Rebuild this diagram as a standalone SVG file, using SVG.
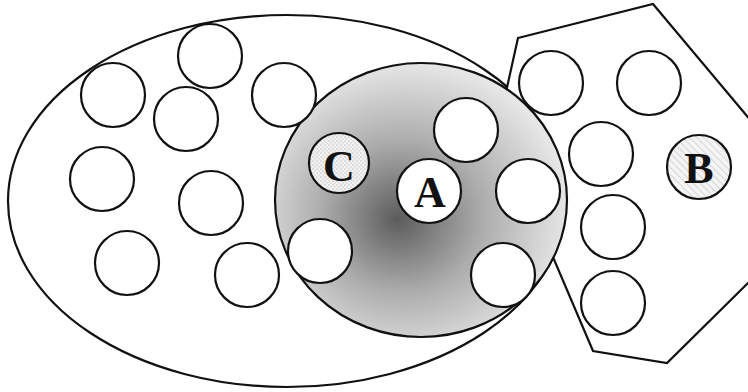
<svg xmlns="http://www.w3.org/2000/svg" width="748" height="392" viewBox="0 0 748 392">
<style>
.o{fill:none;stroke:#111;stroke-width:2.2}
.c{fill:#fff;stroke:#111;stroke-width:2.2}
.t{font-family:"Liberation Serif","Times New Roman",serif;font-size:44px;font-weight:bold;fill:#111;text-anchor:middle}
</style>
<defs>
<radialGradient id="g" cx="0.45" cy="0.55" r="0.55" fx="0.42" fy="0.57">
<stop offset="0" stop-color="#5c5c5c"/>
<stop offset="0.5" stop-color="#acacac"/>
<stop offset="1" stop-color="#e6e6e6"/>
</radialGradient>
<pattern id="dots" width="4" height="4" patternUnits="userSpaceOnUse">
<rect width="4" height="4" fill="#f2f2f2"/>
<circle cx="1" cy="1" r="0.7" fill="#b8b8b8"/>
<circle cx="3" cy="3" r="0.7" fill="#c8c8c8"/>
</pattern>
<pattern id="hatch" width="5" height="5" patternUnits="userSpaceOnUse" patternTransform="rotate(-45)">
<rect width="5" height="5" fill="#f4f4f4"/>
<line x1="0" y1="0" x2="0" y2="5" stroke="#c4c4c4" stroke-width="1.3"/>
</pattern>
</defs>
<g id="regionLeft"><ellipse class="o" cx="287" cy="201" rx="279" ry="186"/></g>
<g id="regionRight"><polygon class="c" points="518,38 653,4 752,122 752,279 667,363 593,351 498,128"/></g>
<g id="regionA"><ellipse cx="421" cy="200" rx="146" ry="137" fill="url(#g)" stroke="#111" stroke-width="2.2"/></g>
<g id="leftNodes">
<circle class="c" cx="113" cy="95" r="32"/>
<circle class="c" cx="210" cy="56" r="32"/>
<circle class="c" cx="186" cy="119" r="32"/>
<circle class="c" cx="284" cy="95" r="32"/>
<circle class="c" cx="102" cy="179" r="32"/>
<circle class="c" cx="211" cy="203" r="32"/>
<circle class="c" cx="127" cy="263" r="32"/>
<circle class="c" cx="247" cy="275" r="32"/>
</g>
<g id="innerNodes">
<circle class="c" cx="466" cy="130" r="32"/>
<circle class="c" cx="528" cy="191" r="32"/>
<circle class="c" cx="320" cy="251" r="32"/>
<circle class="c" cx="503" cy="275" r="32"/>
</g>
<g id="rightNodes">
<circle class="c" cx="551" cy="83" r="32"/>
<circle class="c" cx="649" cy="83" r="32"/>
<circle class="c" cx="601" cy="154" r="32"/>
<circle class="c" cx="613" cy="227" r="32"/>
<circle class="c" cx="613" cy="303" r="32"/>
</g>
<g id="nodeA"><circle class="c" cx="429" cy="191" r="32"/><text class="t" x="430" y="207">A</text></g>
<g id="nodeC"><circle cx="339" cy="163" r="30" fill="url(#dots)" stroke="#111" stroke-width="2.2"/><text class="t" x="339" y="181">C</text></g>
<g id="nodeB"><circle cx="699" cy="167" r="32" fill="url(#hatch)" stroke="#111" stroke-width="2.2"/><text class="t" x="699" y="183">B</text></g>
</svg>
